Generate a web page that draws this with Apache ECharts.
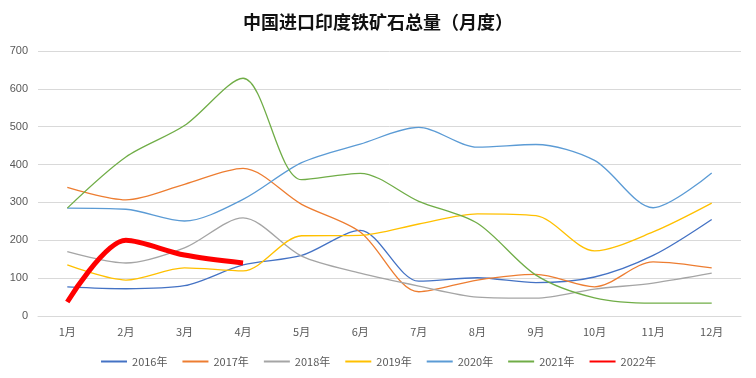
<!DOCTYPE html>
<html>
<head>
<meta charset="utf-8">
<script src="https://cdn.jsdelivr.net/npm/echarts@6/dist/echarts.min.js"></script>
<style>html,body{margin:0;padding:0;background:#fff;}#c{width:756px;height:378px;}</style>
</head>
<body>
<div id="c"></div>
<script>
const months = ['1月','2月','3月','4月','5月','6月','7月','8月','9月','10月','11月','12月'];
const yTicks = [0,100,200,300,400,500,600,700];
const s2016 = [77,72,80,135,160,226,92,101,88,103,160,255];
const s2017 = [340,307,348,390,295,222,64,95,110,77,143,127];
const s2018 = [170,140,180,259,158,113,79,50,47,71,87,113];
const s2019 = [135,95,127,119,212,213,243,270,265,172,222,298];
const s2020 = [285,282,251,308,405,454,498,446,453,411,286,378];
const s2021 = [285,420,503,628,360,377,303,245,108,48,34,34];
const s2022 = [37,200,161,140];
const names = ['2016年','2017年','2018年','2019年','2020年','2021年','2022年'];
const colors = ['#4472C4','#ED7D31','#A5A5A5','#FFC000','#5B9BD5','#70AD47','#FF0000'];
const allData = [s2016,s2017,s2018,s2019,s2020,s2021,s2022];

const chart = echarts.init(document.getElementById('c'), null, {renderer:'canvas'});
chart.setOption({
  animation: false,
  backgroundColor: '#fff',
  title: {
    text: '中国进口印度铁矿石总量（月度）',
    left: 'center', top: 8,
    textStyle: {fontFamily: 'Noto Sans CJK SC', fontSize: 18, fontWeight: 'bold', color: '#111'}
  },
  legend: {
    bottom: 6, left: 'center',
    itemWidth: 26, itemHeight: 10, itemGap: 14,
    itemStyle: {color: 'rgba(0,0,0,0)', borderWidth: 0},
    textStyle: {fontFamily: 'Noto Sans CJK SC', fontSize: 11, color: '#595959'},
    data: names
  },
  grid: {left: 38, right: 15, top: 51, bottom: 62},
  xAxis: {
    type: 'category', data: months, boundaryGap: true,
    axisLine: {lineStyle: {color: '#d9d9d9'}},
    axisTick: {show: false},
    axisLabel: {color: '#595959', fontSize: 11, margin: 10, fontFamily: 'Noto Sans CJK SC'}
  },
  yAxis: {
    type: 'value', min: yTicks[0], max: yTicks[yTicks.length-1], interval: 100,
    axisLine: {show: false}, axisTick: {show: false},
    axisLabel: {color: '#595959', fontSize: 11, margin: 10, fontFamily: 'Liberation Sans'},
    splitLine: {lineStyle: {color: '#d9d9d9', width: 1}}
  },
  series: names.map((n, i) => ({
    name: n, type: 'line', data: allData[i], smooth: 0.3,
    symbol: 'none', showSymbol: false,
    lineStyle: {color: colors[i], width: i === 6 ? 5 : 1.3},
    itemStyle: {color: colors[i]},
    z: i === 6 ? 10 : 2
  }))
});
</script>
</body>
</html>
